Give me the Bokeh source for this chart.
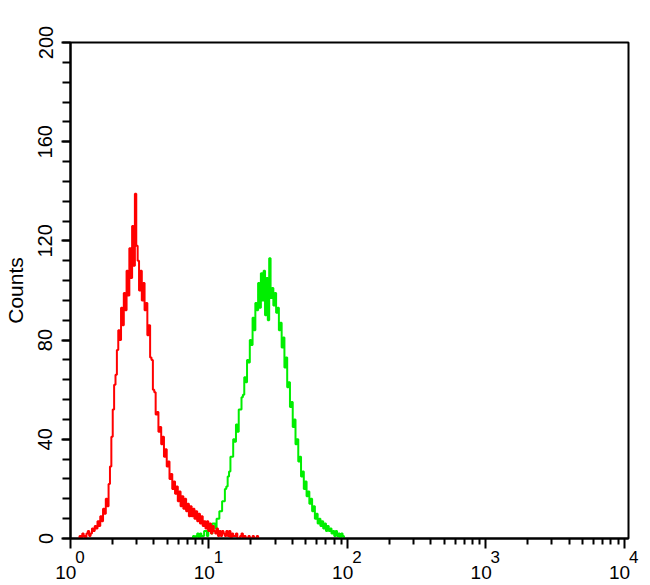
from bokeh.plotting import figure
from bokeh.models import FixedTicker, SingleIntervalTicker, LogAxis, Range1d
from bokeh.embed import file_html
from bokeh.resources import INLINE

# histogram channels: 100 channels per decade, first channel index given
red_first_channel = 6
red_counts = [0, 1, 0, 2, 1, 0, 2, 3, 1, 2, 4, 3, 5, 4, 7, 5, 9, 7, 12, 10,
              16, 13, 22, 29, 41, 52, 62, 66, 76, 84, 80, 93, 86, 99, 92, 108,
              98, 117, 105, 126, 110, 139, 118, 112, 100, 108, 96, 103, 92, 95,
              82, 86, 73, 72, 60, 59, 50, 51, 43, 45, 38, 41, 33, 36, 29, 31,
              24, 26, 20, 23, 18, 21, 15, 19, 13, 17, 12, 16, 11, 14, 9, 13,
              9, 12, 8, 11, 7, 10, 6, 9, 5, 7, 4, 7, 3, 6, 2, 5, 3, 2,
              4, 1, 3, 1, 3, 2, 1, 3, 1, 3, 0, 2, 1, 1, 2, 0, 0, 1, 2, 0,
              1, 0, 0, 1, 0, 0, 1, 0, 0, 1, 0]

green_first_channel = 88
green_counts = [0, 1, 0, 1, 2, 0, 2, 1, 1, 3, 3, 1, 4, 4, 2, 6, 6, 4, 8, 8,
                11, 11, 15, 15, 20, 21, 25, 27, 33, 33, 40, 39, 46, 43, 52, 52,
                57, 58, 65, 63, 72, 71, 80, 78, 89, 84, 95, 92, 103, 93, 107, 96,
                108, 90, 105, 88, 113, 97, 101, 94, 99, 91, 93, 84, 87, 77, 81,
                69, 73, 61, 63, 53, 55, 45, 48, 38, 40, 31, 33, 25, 27, 20, 23,
                17, 19, 14, 16, 11, 13, 8, 10, 6, 8, 5, 7, 4, 6, 3, 5, 3, 4,
                2, 3, 1, 3, 1, 2, 0, 2, 1, 0]

y_ticks_interval = 40
x_exponents = [0, 1, 2, 3, 4]
x_base = "10"
y_label = "Counts"

red_x = [10 ** ((red_first_channel + i) / 100) for i in range(len(red_counts))]
green_x = [10 ** ((green_first_channel + i) / 100) for i in range(len(green_counts))]

p = figure(x_axis_type="log", x_range=Range1d(1, 10 ** 4.03), y_range=Range1d(0, 200),
           frame_width=558, frame_height=496,
           min_border_left=63, min_border_top=42, min_border_right=13, min_border_bottom=0,
           output_backend="svg", toolbar_location=None)

p.grid.visible = False
p.outline_line_color = "black"
p.outline_line_width = 2
p.outline_line_alpha = 1
p.background_fill_color = "white"
p.border_fill_color = "white"

p.step(green_x, green_counts, mode="center", line_color="#00ee00", line_width=2)
p.step(red_x, red_counts, mode="center", line_color="#ff0000", line_width=2)

# y axis
yax = p.yaxis[0]
yax.ticker = SingleIntervalTicker(interval=y_ticks_interval, num_minor_ticks=5)
yax.major_label_orientation = "vertical"
yax.major_tick_out = 9
yax.major_tick_in = 0
yax.minor_tick_out = 8
yax.minor_tick_in = 0
yax.axis_line_width = 2
yax.major_tick_line_width = 2
yax.minor_tick_line_width = 2
yax.major_label_text_font = "Liberation Sans"
yax.major_label_text_font_size = "20px"
yax.major_label_text_color = "black"
yax.major_label_standoff = 9
yax.axis_label = y_label
yax.axis_label_text_font = "Liberation Sans"
yax.axis_label_text_font_size = "21px"
yax.axis_label_text_font_style = "normal"
yax.axis_label_text_color = "black"
yax.axis_label_standoff = 9

# x axis: ticks + exponent labels (superscripts)
major = [10 ** e for e in x_exponents]
minor = [m * 10 ** k for k in x_exponents[:-1] for m in range(2, 10)]
xax = p.xaxis[0]
xax.ticker = FixedTicker(ticks=major, minor_ticks=minor)
xax.major_tick_out = 10
xax.major_tick_in = 0
xax.minor_tick_out = 6
xax.minor_tick_in = 0
xax.axis_line_width = 2
xax.major_tick_line_width = 2
xax.minor_tick_line_width = 2
xax.major_label_text_font = "Liberation Sans"
xax.major_label_text_font_size = "17px"
xax.major_label_text_color = "black"
xax.major_label_standoff = -1
xax.major_label_overrides = {t: "\u2007\u2007" + str(e) for t, e in zip(major, x_exponents)}

# second axis below: the "10" base of each label
bax = LogAxis(ticker=FixedTicker(ticks=major, minor_ticks=[]))
bax.axis_line_color = None
bax.major_tick_line_color = None
bax.minor_tick_line_color = None
bax.major_tick_out = 0
bax.major_tick_in = 0
bax.minor_tick_out = 0
bax.minor_tick_in = 0
bax.major_label_text_font = "Liberation Sans"
bax.major_label_text_font_size = "19px"
bax.major_label_text_color = "black"
bax.major_label_standoff = -8
bax.major_label_overrides = {t: x_base + "\u2002" for t in major}
p.add_layout(bax, "below")

open("out.html", "w").write(file_html(p, INLINE))
